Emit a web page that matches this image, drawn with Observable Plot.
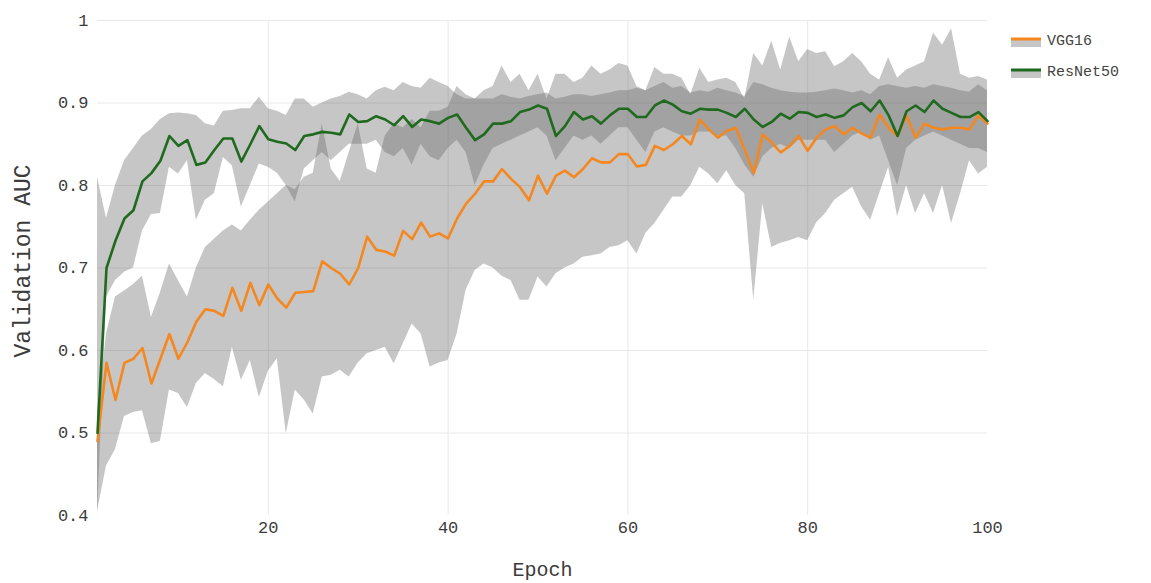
<!DOCTYPE html>
<html><head><meta charset="utf-8">
<script src="https://cdn.jsdelivr.net/npm/d3@7"></script>
<script src="https://cdn.jsdelivr.net/npm/@observablehq/plot@0.6"></script>
<style>
body{margin:0;background:#fff;}
#wrap{position:relative;width:1151px;height:583px;}
#legend{position:absolute;left:1011px;top:26px;font-family:"Liberation Mono",monospace;font-size:15px;color:#444;}
.item{display:flex;align-items:center;height:31px;}
.item svg{margin-right:6px;}
</style></head><body><div id="wrap"><div id="legend"></div></div>
<script>
const epochs = d3.range(1, 101);

const seriesNames = ["VGG16", "ResNet50"];
const seriesColors = ["#f5871f", "#1f6a1f"];

const vggMean = [
 0.49,0.585,0.54,0.585,0.59,0.603,0.56,0.59,0.62,0.59,
 0.61,0.635,0.65,0.648,0.642,0.676,0.648,0.682,0.655,0.68,
 0.663,0.652,0.67,0.671,0.672,0.708,0.70,0.693,0.68,0.70,
 0.738,0.722,0.72,0.715,0.745,0.735,0.755,0.738,0.742,0.736,
 0.76,0.778,0.79,0.805,0.805,0.82,0.808,0.798,0.782,0.812,
 0.79,0.812,0.818,0.81,0.82,0.833,0.828,0.828,0.838,0.838,
 0.823,0.825,0.848,0.843,0.85,0.86,0.85,0.88,0.868,0.858,
 0.866,0.87,0.843,0.815,0.862,0.852,0.84,0.848,0.86,0.842,
 0.858,0.868,0.872,0.862,0.87,0.863,0.858,0.886,0.87,0.86,
 0.885,0.858,0.875,0.87,0.868,0.87,0.87,0.868,0.885,0.875];

const vggUpper = [
 0.52,0.62,0.665,0.672,0.68,0.69,0.64,0.67,0.705,0.685,
 0.665,0.70,0.725,0.735,0.745,0.752,0.745,0.758,0.77,0.78,
 0.79,0.80,0.795,0.81,0.815,0.875,0.82,0.805,0.84,0.875,
 0.82,0.815,0.86,0.875,0.87,0.88,0.87,0.89,0.89,0.895,
 0.92,0.91,0.905,0.915,0.92,0.945,0.925,0.935,0.915,0.935,
 0.905,0.935,0.935,0.925,0.93,0.945,0.935,0.94,0.948,0.945,
 0.92,0.915,0.943,0.935,0.935,0.93,0.91,0.942,0.925,0.928,
 0.93,0.925,0.905,0.96,0.945,0.975,0.94,0.98,0.95,0.965,
 0.96,0.962,0.944,0.95,0.96,0.95,0.935,0.928,0.955,0.93,
 0.94,0.945,0.95,0.985,0.97,0.99,0.935,0.93,0.932,0.928];

const vggLower = [
 0.405,0.46,0.48,0.52,0.525,0.527,0.487,0.49,0.552,0.548,
 0.531,0.56,0.572,0.565,0.556,0.604,0.564,0.588,0.543,0.575,
 0.59,0.499,0.552,0.54,0.523,0.568,0.57,0.576,0.568,0.585,
 0.596,0.60,0.604,0.584,0.608,0.632,0.62,0.58,0.585,0.588,
 0.62,0.673,0.697,0.705,0.70,0.69,0.685,0.661,0.661,0.689,
 0.677,0.693,0.70,0.705,0.713,0.715,0.717,0.725,0.727,0.733,
 0.717,0.742,0.754,0.77,0.786,0.786,0.80,0.822,0.814,0.802,
 0.818,0.80,0.79,0.661,0.778,0.725,0.73,0.733,0.737,0.733,
 0.755,0.766,0.782,0.79,0.798,0.774,0.758,0.79,0.822,0.762,
 0.80,0.766,0.79,0.766,0.80,0.754,0.79,0.83,0.814,0.822];

const resMean = [
 0.50,0.70,0.733,0.76,0.77,0.805,0.815,0.83,0.86,0.848,
 0.855,0.825,0.828,0.843,0.857,0.857,0.829,0.85,0.872,0.856,
 0.853,0.851,0.843,0.86,0.862,0.865,0.864,0.862,0.886,0.877,
 0.878,0.884,0.88,0.873,0.884,0.871,0.88,0.878,0.875,0.882,
 0.886,0.87,0.855,0.862,0.875,0.875,0.878,0.889,0.892,0.897,
 0.893,0.86,0.872,0.889,0.88,0.884,0.875,0.885,0.893,0.893,
 0.883,0.883,0.897,0.903,0.898,0.89,0.887,0.893,0.892,0.892,
 0.888,0.883,0.893,0.88,0.871,0.877,0.887,0.881,0.889,0.888,
 0.883,0.886,0.882,0.885,0.895,0.90,0.89,0.903,0.885,0.86,
 0.89,0.897,0.889,0.903,0.893,0.888,0.883,0.883,0.889,0.878];

const resUpper = [
 0.81,0.76,0.80,0.83,0.845,0.86,0.868,0.88,0.887,0.888,
 0.887,0.885,0.875,0.872,0.89,0.891,0.893,0.893,0.907,0.893,
 0.89,0.885,0.905,0.905,0.895,0.90,0.905,0.908,0.913,0.91,
 0.905,0.915,0.919,0.915,0.925,0.92,0.918,0.93,0.925,0.92,
 0.91,0.905,0.905,0.905,0.905,0.91,0.907,0.905,0.908,0.91,
 0.912,0.905,0.907,0.91,0.91,0.908,0.91,0.912,0.915,0.915,
 0.918,0.915,0.92,0.925,0.918,0.92,0.912,0.915,0.913,0.918,
 0.915,0.912,0.908,0.925,0.922,0.918,0.915,0.913,0.912,0.912,
 0.913,0.915,0.917,0.915,0.912,0.915,0.91,0.92,0.922,0.92,
 0.918,0.92,0.918,0.922,0.92,0.918,0.915,0.913,0.922,0.915];

const resLower = [
 0.40,0.665,0.685,0.695,0.70,0.745,0.765,0.766,0.822,0.814,
 0.83,0.758,0.782,0.79,0.834,0.824,0.774,0.80,0.826,0.822,
 0.815,0.80,0.78,0.82,0.83,0.84,0.83,0.84,0.85,0.85,
 0.85,0.855,0.84,0.835,0.845,0.825,0.85,0.835,0.83,0.845,
 0.855,0.84,0.80,0.825,0.845,0.85,0.855,0.86,0.865,0.87,
 0.86,0.83,0.845,0.86,0.855,0.86,0.85,0.86,0.87,0.87,
 0.855,0.84,0.865,0.87,0.865,0.86,0.86,0.865,0.865,0.86,
 0.86,0.845,0.825,0.81,0.835,0.845,0.85,0.845,0.855,0.855,
 0.855,0.855,0.84,0.85,0.86,0.865,0.855,0.86,0.83,0.80,
 0.845,0.855,0.86,0.865,0.86,0.855,0.85,0.845,0.845,0.84];

const yTicks = [0.4, 0.5, 0.6, 0.7, 0.8, 0.9, 1];
const xTicks = [20, 40, 60, 80, 100];

const vgg = epochs.map((e, i) => ({epoch: e, mean: vggMean[i], lo: vggLower[i], hi: vggUpper[i]}));
const res = epochs.map((e, i) => ({epoch: e, mean: resMean[i], lo: resLower[i], hi: resUpper[i]}));

const bandFill = "#646464";
const bandOpacity = 0.37;

const chart = Plot.plot({
  width: 1151,
  height: 583,
  marginLeft: 97,
  marginRight: 164,
  marginTop: 20,
  marginBottom: 68,
  style: {fontFamily: "'Liberation Mono', monospace", fontSize: "17px", color: "#3c3c3c", background: "#fff"},
  x: {domain: [1, 100]},
  y: {domain: [0.4, 1]},
  marks: [
    Plot.gridY(yTicks.slice(1), {stroke: "#e8e8e8", strokeOpacity: 1}),
    Plot.gridX(xTicks.slice(0, 4), {stroke: "#e8e8e8", strokeOpacity: 1}),
    Plot.areaY(vgg, {x: "epoch", y1: "lo", y2: "hi", fill: bandFill, fillOpacity: bandOpacity}),
    Plot.areaY(res, {x: "epoch", y1: "lo", y2: "hi", fill: bandFill, fillOpacity: bandOpacity}),
    Plot.lineY(vgg, {x: "epoch", y: "mean", stroke: seriesColors[0], strokeWidth: 2.6}),
    Plot.lineY(res, {x: "epoch", y: "mean", stroke: seriesColors[1], strokeWidth: 2.6}),
    Plot.axisY({ticks: yTicks, tickFormat: d => String(+d.toFixed(1)), tickSize: 0, tickPadding: 9, label: null}),
    Plot.axisX({ticks: xTicks, tickFormat: d => String(d), tickSize: 0, tickPadding: 5, label: null}),
    Plot.text(["Validation AUC"], {frameAnchor: "left", textAnchor: "middle", lineAnchor: "middle", dx: -75, dy: -7, rotate: -90, fontSize: 23, fill: "#3c3c3c"}),
    Plot.text(["Epoch"], {frameAnchor: "bottom", lineAnchor: "middle", dy: 54, fontSize: 20, fill: "#3c3c3c"})
  ]
});
document.getElementById("wrap").prepend(chart);

const legend = document.getElementById("legend");
seriesNames.forEach((name, i) => {
  const item = document.createElement("div");
  item.className = "item";
  item.innerHTML = `<svg width="30" height="12"><rect x="0" y="4" width="30" height="7" fill="${bandFill}" fill-opacity="${bandOpacity}"></rect><line x1="0" x2="30" y1="3" y2="3" stroke="${seriesColors[i]}" stroke-width="3"></line></svg><span>${name}</span>`;
  legend.appendChild(item);
});
</script></body></html>
